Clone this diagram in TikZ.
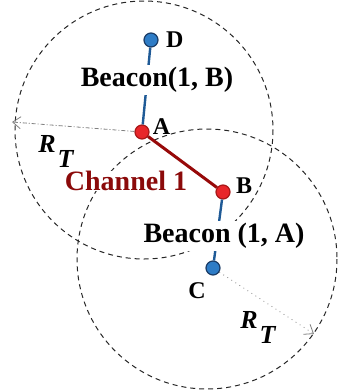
\documentclass[tikz,border=0pt]{standalone}
\usepackage{fontspec}
\setmainfont{Liberation Serif}
\usetikzlibrary{positioning, arrows.meta}
\definecolor{dotred}{HTML}{E8262A}
\definecolor{rimred}{HTML}{A81818}
\definecolor{chanred}{HTML}{8B0A0A}
\definecolor{dotblue}{HTML}{2E7CC6}
\definecolor{rimblue}{HTML}{1B3C66}
\definecolor{linkblue}{HTML}{1F5A96}

\begin{document}
\begin{tikzpicture}[x=0.5pt, y=-0.5pt,
    reddot/.style={circle, draw=rimred, fill=dotred, line width=0.6pt,
      minimum size=7pt, inner sep=0pt},
    bluedot/.style={circle, draw=rimblue, fill=dotblue, line width=0.6pt,
      minimum size=7pt, inner sep=0pt},
    coverage/.style={draw=black!85, dash pattern=on 2.5pt off 2pt, line width=0.5pt},
    rarrow/.style={-{Straight Barb[length=4pt, width=6pt]}, gray, line width=0.4pt},
    idtag/.style={font=\fontsize{12}{14}\selectfont\bfseries, inner sep=0pt},
    beacon/.style={fill=white, font=\fontsize{14}{16}\selectfont\bfseries, inner sep=1pt},
    rtag/.style={font=\fontsize{13}{15}\selectfont\bfseries\itshape, inner sep=0pt, anchor=base west},
    beaconlink/.style={linkblue, line width=1.2pt},
    chanlink/.style={chanred!90!red, line width=1.5pt}]
  \useasboundingbox (0,0) rectangle (341,392);

  % transmission ranges
  \draw[coverage] (144,130) circle[radius=129];
  \draw[coverage] (207,259) circle[radius=130];

  \node[reddot] (a) at (142,132) {};
  \node[reddot] (b) at (223,192) {};
  \node[bluedot] (c) at (213,268) {};
  \node[bluedot] (d) at (151,40) {};
  \coordinate (edgel) at (12,122);
  \coordinate (edger) at (314,334);

  \draw[rarrow, dash pattern=on 2pt off 1pt on 0.5pt off 1pt] (a) -- (edgel);
  \draw[rarrow, dotted] (c) -- (edger);
  \draw[chanlink] (a) -- (b);
  \draw[beaconlink] (d) -- (a);
  \draw[beaconlink] (b) -- (c);

  \node[beacon] (bcb) at (157,80) {Beacon(1, B)};
  \node[beacon] (bca) at (224,236) {Beacon (1, A)};
  \node[beacon, text=chanred, inner sep=0pt] (chan) at (126,181) {Channel 1};

  \node[idtag, right=1.5pt of a, yshift=2.5pt] (la) {A};
  \node[idtag, right=3.5pt of d] (ld) {D};
  \node[idtag, right=2.5pt of b, yshift=3pt] (lb) {B};
  \node[idtag] (lc) at (197,291) {C};

  \node[rtag] (rt1) at (38,152) {R\kern1pt\raisebox{-7.5pt}{T}};
  \node[rtag] (rt2) at (240,328) {R\kern1pt\raisebox{-7.5pt}{T}};
\end{tikzpicture}
\end{document}
